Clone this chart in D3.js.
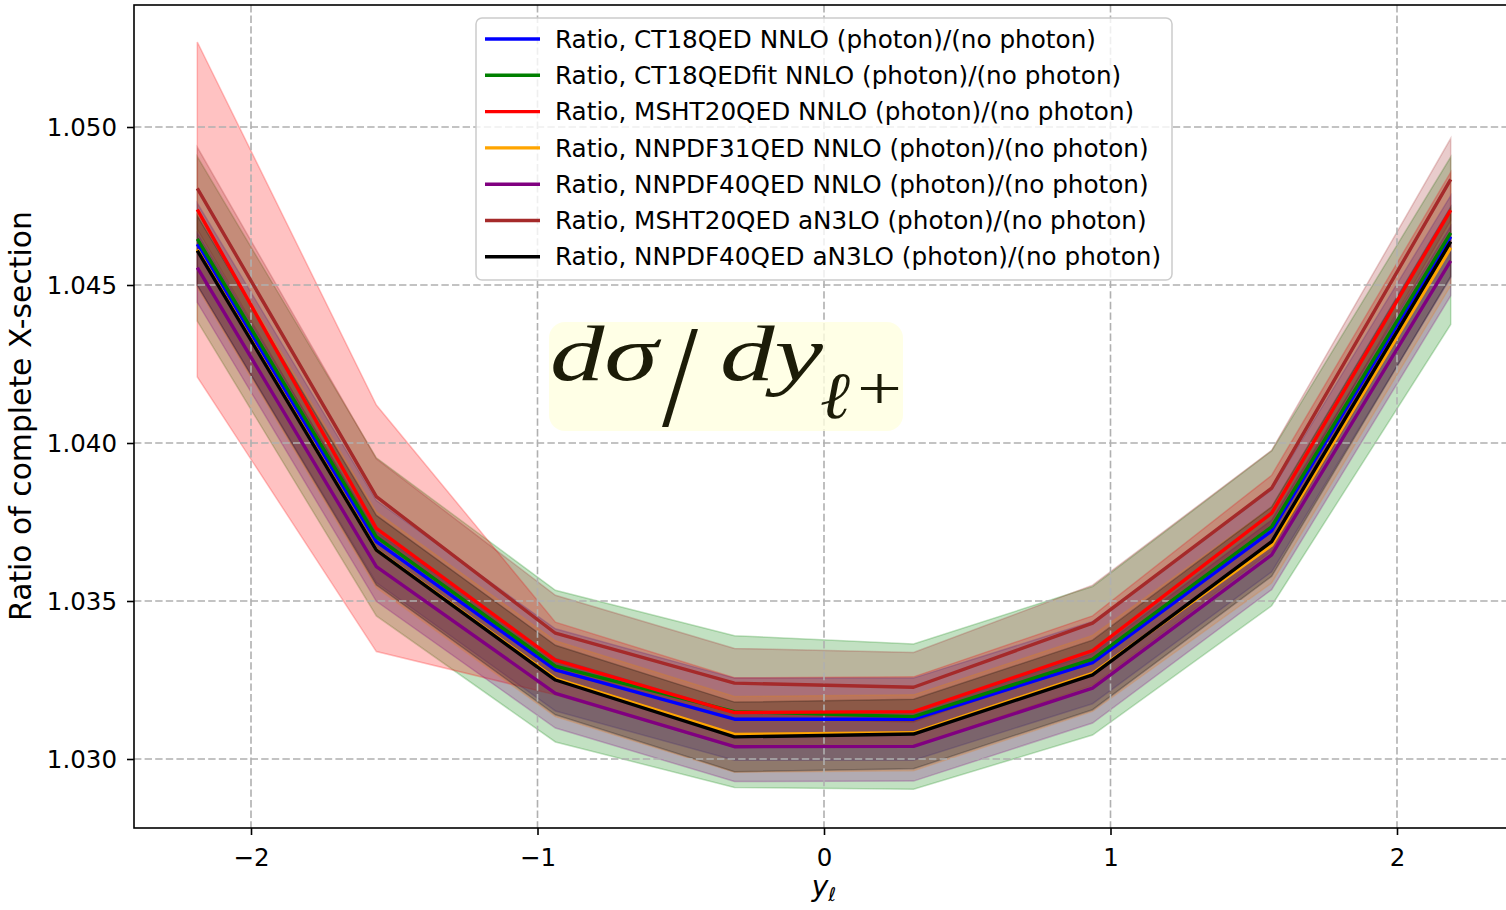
<!DOCTYPE html>
<html>
<head>
<meta charset="utf-8">
<script src="https://cdn.jsdelivr.net/npm/d3@7"></script>
<style>
  body { margin: 0; background: #fff; }
  text { font-family: "DejaVu Sans", sans-serif; }
</style>
</head>
<body>
<div id="chart"></div>
<script>
// rapidity bin centres
var yBins = [-2.1875, -1.5625, -0.9375, -0.3125, 0.3125, 0.9375, 1.5625, 2.1875];

var seriesNames = [
  "Ratio, CT18QED NNLO (photon)/(no photon)",
  "Ratio, CT18QEDfit NNLO (photon)/(no photon)",
  "Ratio, MSHT20QED NNLO (photon)/(no photon)",
  "Ratio, NNPDF31QED NNLO (photon)/(no photon)",
  "Ratio, NNPDF40QED NNLO (photon)/(no photon)",
  "Ratio, MSHT20QED aN3LO (photon)/(no photon)",
  "Ratio, NNPDF40QED aN3LO (photon)/(no photon)"
];
var seriesColors = ["blue", "green", "red", "orange", "purple", "brown", "black"];

// central ratios
var ct18       = [1.04629, 1.03688, 1.03282, 1.03126, 1.03126, 1.03305, 1.03722, 1.04653];
var ct18fit    = [1.04646, 1.03703, 1.03294, 1.03150, 1.03134, 1.03316, 1.03735, 1.04665];
var msht       = [1.04739, 1.03730, 1.03313, 1.03147, 1.03150, 1.03343, 1.03778, 1.04737];
var nnpdf31    = [1.04612, 1.03662, 1.03254, 1.03078, 1.03083, 1.03271, 1.03677, 1.04618];
var nnpdf40    = [1.04555, 1.03609, 1.03208, 1.03039, 1.03040, 1.03224, 1.03646, 1.04576];
var mshtN3lo   = [1.04806, 1.03830, 1.03398, 1.03240, 1.03227, 1.03430, 1.03857, 1.04834];
var nnpdf40N3lo= [1.04609, 1.03661, 1.03250, 1.03070, 1.03079, 1.03266, 1.03688, 1.04637];

// uncertainty half widths (up / down)
var ct18Up        = [0.0013, 0.0013, 0.0013, 0.0013, 0.0013, 0.0013, 0.0013, 0.0013];
var ct18Dn        = [0.0013, 0.0013, 0.0013, 0.0013, 0.0013, 0.0013, 0.0013, 0.0013];
var ct18fitUp     = [0.0026, 0.0025, 0.0024, 0.0024, 0.0023, 0.0023, 0.0024, 0.0024];
var ct18fitDn     = [0.0026, 0.0025, 0.0024, 0.0024, 0.0023, 0.0024, 0.0025, 0.0029];
var mshtUp        = [0.0053, 0.0039, 0.0012, 0.0011, 0.0011, 0.0011, 0.0012, 0.0012];
var mshtDn        = [0.0053, 0.0039, 0.0011, 0.0011, 0.0011, 0.0011, 0.0012, 0.0012];
var nnpdf31Up     = [0.0012, 0.0012, 0.0012, 0.0012, 0.0012, 0.0012, 0.0012, 0.0012];
var nnpdf31Dn     = [0.0012, 0.0012, 0.0012, 0.0012, 0.0012, 0.0012, 0.0012, 0.0012];
var nnpdf40Up     = [0.0011, 0.0011, 0.0011, 0.0011, 0.0011, 0.0011, 0.0011, 0.0011];
var nnpdf40Dn     = [0.0011, 0.0011, 0.0011, 0.0011, 0.0011, 0.0011, 0.0011, 0.0011];
var mshtN3loUp    = [0.0013, 0.0012, 0.0012, 0.0011, 0.0011, 0.0012, 0.0012, 0.0013];
var mshtN3loDn    = [0.0013, 0.0012, 0.0012, 0.0011, 0.0011, 0.0012, 0.0012, 0.0013];
var nnpdf40N3loUp = [0.0011, 0.0011, 0.0011, 0.0011, 0.0011, 0.0011, 0.0011, 0.0011];
var nnpdf40N3loDn = [0.0011, 0.0011, 0.0011, 0.0011, 0.0011, 0.0011, 0.0011, 0.0011];

var xTicks = [-2, -1, 0, 1, 2];
var yTicks = [1.030, 1.035, 1.040, 1.045, 1.050];

var centrals = [ct18, ct18fit, msht, nnpdf31, nnpdf40, mshtN3lo, nnpdf40N3lo];
var ups = [ct18Up, ct18fitUp, mshtUp, nnpdf31Up, nnpdf40Up, mshtN3loUp, nnpdf40N3loUp];
var dns = [ct18Dn, ct18fitDn, mshtDn, nnpdf31Dn, nnpdf40Dn, mshtN3loDn, nnpdf40N3loDn];

var series = seriesNames.map(function(name, i){
  return {
    name: name,
    color: seriesColors[i],
    values: yBins.map(function(x, j){
      return {x: x, y: centrals[i][j], lo: centrals[i][j] - dns[i][j], hi: centrals[i][j] + ups[i][j]};
    })
  };
});

//svg dimensions
var W = 1506, H = 910;
var plot = {left: 134, right: 1514, top: 5, bottom: 828};

var svg = d3.select("#chart").append("svg")
  .attr("width", W)
  .attr("height", H);

var x = d3.scaleLinear().domain([-2.4084, 2.4084]).range([plot.left, plot.right]);
var y = d3.scaleLinear().domain([1.0278165, 1.053861]).range([plot.bottom, plot.top]);

svg.append("clipPath").attr("id", "clip")
  .append("rect")
  .attr("x", plot.left).attr("y", plot.top)
  .attr("width", plot.right - plot.left).attr("height", plot.bottom - plot.top);

var area = d3.area().x(d => x(d.x)).y0(d => y(d.lo)).y1(d => y(d.hi));
var line = d3.line().x(d => x(d.x)).y(d => y(d.y));

// bands first (they sit under the grid)
var bands = svg.append("g").attr("clip-path", "url(#clip)");
series.forEach(function(s){
  bands.append("path")
    .attr("d", area(s.values))
    .attr("fill", s.color)
    .attr("fill-opacity", 0.24)
    .attr("stroke", s.color)
    .attr("stroke-opacity", 0.24)
    .attr("stroke-width", 1.5);
});

// grid
var grid = svg.append("g");
grid.selectAll("line.gx").data(xTicks).enter().append("line")
  .attr("x1", d => x(d)).attr("x2", d => x(d))
  .attr("y1", plot.top).attr("y2", plot.bottom);
grid.selectAll("line.gy").data(yTicks).enter().append("line")
  .attr("x1", plot.left).attr("x2", plot.right)
  .attr("y1", d => y(d)).attr("y2", d => y(d));
grid.selectAll("line")
  .attr("stroke", "#b0b0b0")
  .attr("stroke-width", 1.6)
  .attr("stroke-dasharray", "7.4,3.2");

// central lines
var lines = svg.append("g").attr("clip-path", "url(#clip)");
series.forEach(function(s){
  lines.append("path")
    .attr("d", line(s.values))
    .attr("fill", "none")
    .attr("stroke", s.color)
    .attr("stroke-width", 3.4)
    .attr("stroke-linejoin", "round");
});

// frame
svg.append("rect")
  .attr("x", plot.left).attr("y", plot.top)
  .attr("width", plot.right - plot.left).attr("height", plot.bottom - plot.top)
  .attr("fill", "none").attr("stroke", "black").attr("stroke-width", 1.6);

// axes
var xAxis = svg.append("g")
  .attr("transform", "translate(0," + plot.bottom + ")")
  .call(d3.axisBottom(x).tickValues(xTicks).tickSize(7).tickPadding(14)
    .tickFormat(d => d < 0 ? "\u2212" + Math.abs(d) : d));
var yAxis = svg.append("g")
  .attr("transform", "translate(" + plot.left + ",0)")
  .call(d3.axisLeft(y).tickValues(yTicks).tickSize(7).tickPadding(10)
    .tickFormat(d3.format(".3f")));
[xAxis, yAxis].forEach(function(a){
  a.select(".domain").remove();
  a.selectAll(".tick line").attr("stroke", "black").attr("stroke-width", 1.6);
  a.selectAll(".tick text")
    .attr("fill", "black")
    .style("font-size", "24.5px")
    .style("font-family", "'DejaVu Sans', sans-serif");
});
yAxis.selectAll(".tick text").attr("dy", "0.35em");

// axis labels
svg.append("text")
  .attr("transform", "translate(31,416) rotate(-90)")
  .attr("text-anchor", "middle")
  .style("font-size", "29.8px")
  .text("Ratio of complete X-section");

var xl = svg.append("text")
  .attr("x", 824).attr("y", 896)
  .attr("text-anchor", "middle")
  .style("font-size", "28px")
  .style("font-style", "italic");
xl.append("tspan").text("y");
xl.append("tspan").attr("dy", 5).style("font-size", "19px").text("\u2113");

// annotation box
svg.append("rect")
  .attr("x", 549).attr("y", 322).attr("width", 354).attr("height", 109)
  .attr("rx", 16)
  .attr("fill", "#ffffe0").attr("fill-opacity", 0.8);

var serif = "'Liberation Serif', 'DejaVu Serif', serif";
function annText(str, px, py, size, len, italic){
  return svg.append("text")
    .attr("x", px).attr("y", py)
    .attr("textLength", len).attr("lengthAdjust", "spacingAndGlyphs")
    .attr("fill", "#1c1c08")
    .style("font-family", serif)
    .style("font-style", italic ? "italic" : "normal")
    .style("font-size", size + "px")
    .text(str);
}
annText("d\u03c3", 550, 380, 78, 108, true);
annText("/", 662, 426, 146, 36, false);
annText("dy", 720, 380, 78, 103, true);
annText("\u2113", 820, 418, 66, 30, true);
annText("+", 857, 409, 62, 45, false);

// legend
var legend = svg.append("g");
legend.append("rect")
  .attr("x", 476).attr("y", 18).attr("width", 696).attr("height", 262)
  .attr("rx", 6)
  .attr("fill", "white").attr("fill-opacity", 0.8)
  .attr("stroke", "#cccccc").attr("stroke-width", 1.5);
series.forEach(function(s, i){
  var ly = 39 + i * 36.3;
  legend.append("line")
    .attr("x1", 485).attr("x2", 540).attr("y1", ly).attr("y2", ly)
    .attr("stroke", s.color).attr("stroke-width", 3.4);
  legend.append("text")
    .attr("x", 555).attr("y", ly).attr("dy", "0.35em")
    .style("font-size", "24.7px")
    .text(s.name);
});
</script>
</body>
</html>
